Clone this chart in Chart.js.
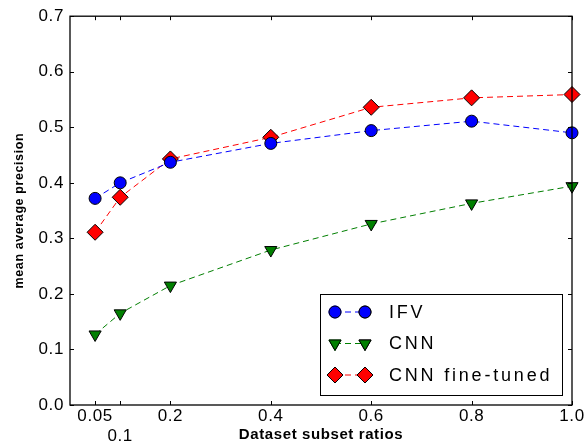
<!DOCTYPE html>
<html>
<head>
<meta charset="utf-8">
<script src="https://cdn.jsdelivr.net/npm/chart.js@4.4.0/dist/chart.umd.min.js"></script>
<style>
  html, body { margin: 0; padding: 0; background: #fff; }
  #wrap { width: 584px; height: 444px; }
</style>
</head>
<body>
<div id="wrap"><canvas id="mapChart"></canvas></div>
<script>
// Data
const ratios = [0.05, 0.1, 0.2, 0.4, 0.6, 0.8, 1.0];
const ifv = [0.372, 0.400, 0.437, 0.471, 0.494, 0.511, 0.490];
const cnn = [0.127, 0.165, 0.215, 0.279, 0.326, 0.363, 0.394];
const cnnFineTuned = [0.311, 0.374, 0.443, 0.482, 0.536, 0.553, 0.559];
const xTicks = [0.05, 0.1, 0.2, 0.4, 0.6, 0.8, 1.0];
const yTicks = [0.0, 0.1, 0.2, 0.3, 0.4, 0.5, 0.6, 0.7];

const FONT = '"Liberation Sans", Arial, sans-serif';
const toPoints = (vals) => ratios.map((x, i) => ({ x: x, y: vals[i] }));

const series = [
    { label: 'IFV', data: ifv, color: '#0000ff', style: 'circle', radius: 6, rotation: 0 },
    { label: 'CNN', data: cnn, color: '#007f00', style: 'triangle', radius: 7, rotation: 180 },
    { label: 'CNN fine-tuned', data: cnnFineTuned, color: '#ff0000', style: 'rectRot', radius: 8, rotation: 0 }
];

// matplotlib text is a bit wider than canvas text
const spacing = {
    id: 'spacing',
    beforeDraw(chart) { chart.ctx.letterSpacing = '0.6px'; }
};

// Box + inward ticks, matplotlib style
const frameAndTicks = {
    id: 'frameAndTicks',
    afterDatasetsDraw(chart) {
        const { ctx, chartArea: a, scales } = chart;
        ctx.save();
        ctx.strokeStyle = '#000';
        ctx.lineWidth = 1;
        ctx.beginPath();
        xTicks.forEach(v => {
            const px = Math.round(scales.x.getPixelForValue(v)) + 0.5;
            ctx.moveTo(px, a.bottom); ctx.lineTo(px, a.bottom - 4);
            ctx.moveTo(px, a.top); ctx.lineTo(px, a.top + 4);
        });
        yTicks.forEach(v => {
            const py = Math.round(scales.y.getPixelForValue(v)) + 0.5;
            ctx.moveTo(a.left, py); ctx.lineTo(a.left + 4, py);
            ctx.moveTo(a.right, py); ctx.lineTo(a.right - 4, py);
        });
        ctx.stroke();
        ctx.lineWidth = 1.3;
        ctx.strokeRect(a.left, a.top, a.right - a.left, a.bottom - a.top);
        ctx.restore();
    }
};

// Legend box in the lower right of the plot
const boxLegend = {
    id: 'boxLegend',
    afterDraw(chart) {
        const { ctx, chartArea: a } = chart;
        const w = 242, h = 101;
        const x0 = a.right - 10 - w, y0 = a.bottom - 10 - h;
        ctx.save();
        ctx.fillStyle = '#fff';
        ctx.fillRect(x0, y0, w, h);
        ctx.strokeStyle = '#000';
        ctx.lineWidth = 1;
        ctx.strokeRect(x0 + 0.5, y0 + 0.5, w, h);
        ctx.font = '18px ' + FONT;
        ctx.letterSpacing = '2.8px';
        ctx.textBaseline = 'middle';
        series.forEach((s, i) => {
            const cy = y0 + 18 + i * 31.5;
            ctx.strokeStyle = s.color;
            ctx.lineWidth = 1;
            ctx.setLineDash([6, 4]);
            ctx.beginPath();
            ctx.moveTo(x0 + 15, cy); ctx.lineTo(x0 + 45, cy);
            ctx.stroke();
            ctx.setLineDash([]);
            [x0 + 15, x0 + 45].forEach(mx => {
                Chart.helpers.drawPoint(ctx, {
                    pointStyle: s.style, radius: s.radius, rotation: s.rotation, borderWidth: 1
                }, mx, cy);
                ctx.fillStyle = s.color;
                ctx.strokeStyle = '#000';
                ctx.lineWidth = 1;
                ctx.fill();
                ctx.stroke();
            });
            ctx.fillStyle = '#000';
            ctx.fillText(s.label, x0 + 69, cy + 1);
        });
        ctx.restore();
    }
};

const ctx = document.getElementById('mapChart');
new Chart(ctx, {
    type: 'line',
    data: {
        datasets: series.map(s => ({
            label: s.label,
            data: toPoints(s.data),
            borderColor: s.color,
            backgroundColor: s.color,
            borderWidth: 1,
            borderDash: [6, 4],
            pointStyle: s.style,
            pointRadius: s.radius,
            pointRotation: s.rotation,
            pointBackgroundColor: s.color,
            pointBorderColor: '#000',
            pointBorderWidth: 1,
            tension: 0,
            clip: false
        }))
    },
    options: {
        responsive: true,
        maintainAspectRatio: false,
        animation: false,
        layout: { padding: { top: 16, right: 12, left: 0, bottom: 0 } },
        plugins: { legend: { display: false }, tooltip: { enabled: false } },
        scales: {
            x: {
                type: 'linear',
                min: 0,
                max: 1.0,
                afterBuildTicks: (scale) => { scale.ticks = xTicks.map(v => ({ value: v })); },
                afterFit: (scale) => { scale.height = 39; scale.paddingRight = 0; },
                grid: { display: false, drawTicks: false },
                border: { display: false },
                ticks: {
                    color: '#000',
                    padding: 2,
                    maxRotation: 0,
                    autoSkip: false,
                    font: { family: FONT, size: 17, lineHeight: 1.15 },
                    callback: (v) => v === 0.1 ? ['', '0.1'] : (v === 1 ? '1.0' : String(v))
                },
                title: {
                    display: true,
                    text: 'Dataset subset ratios',
                    color: '#000',
                    padding: { top: -7, bottom: 0 },
                    font: { family: FONT, size: 15, weight: 'bold' }
                }
            },
            y: {
                min: 0,
                max: 0.7,
                afterBuildTicks: (scale) => { scale.ticks = yTicks.map(v => ({ value: v })); },
                afterFit: (scale) => { scale.width = 70; },
                grid: { display: false, drawTicks: false },
                border: { display: false },
                ticks: {
                    color: '#000',
                    padding: 6,
                    font: { family: FONT, size: 17 },
                    callback: (v) => v.toFixed(1)
                },
                title: {
                    display: true,
                    text: 'mean average precision',
                    color: '#000',
                    padding: { top: 12, bottom: 0 },
                    font: { family: FONT, size: 12.5, weight: 'bold' }
                }
            }
        }
    },
    plugins: [spacing, frameAndTicks, boxLegend]
});
</script>
</body>
</html>
